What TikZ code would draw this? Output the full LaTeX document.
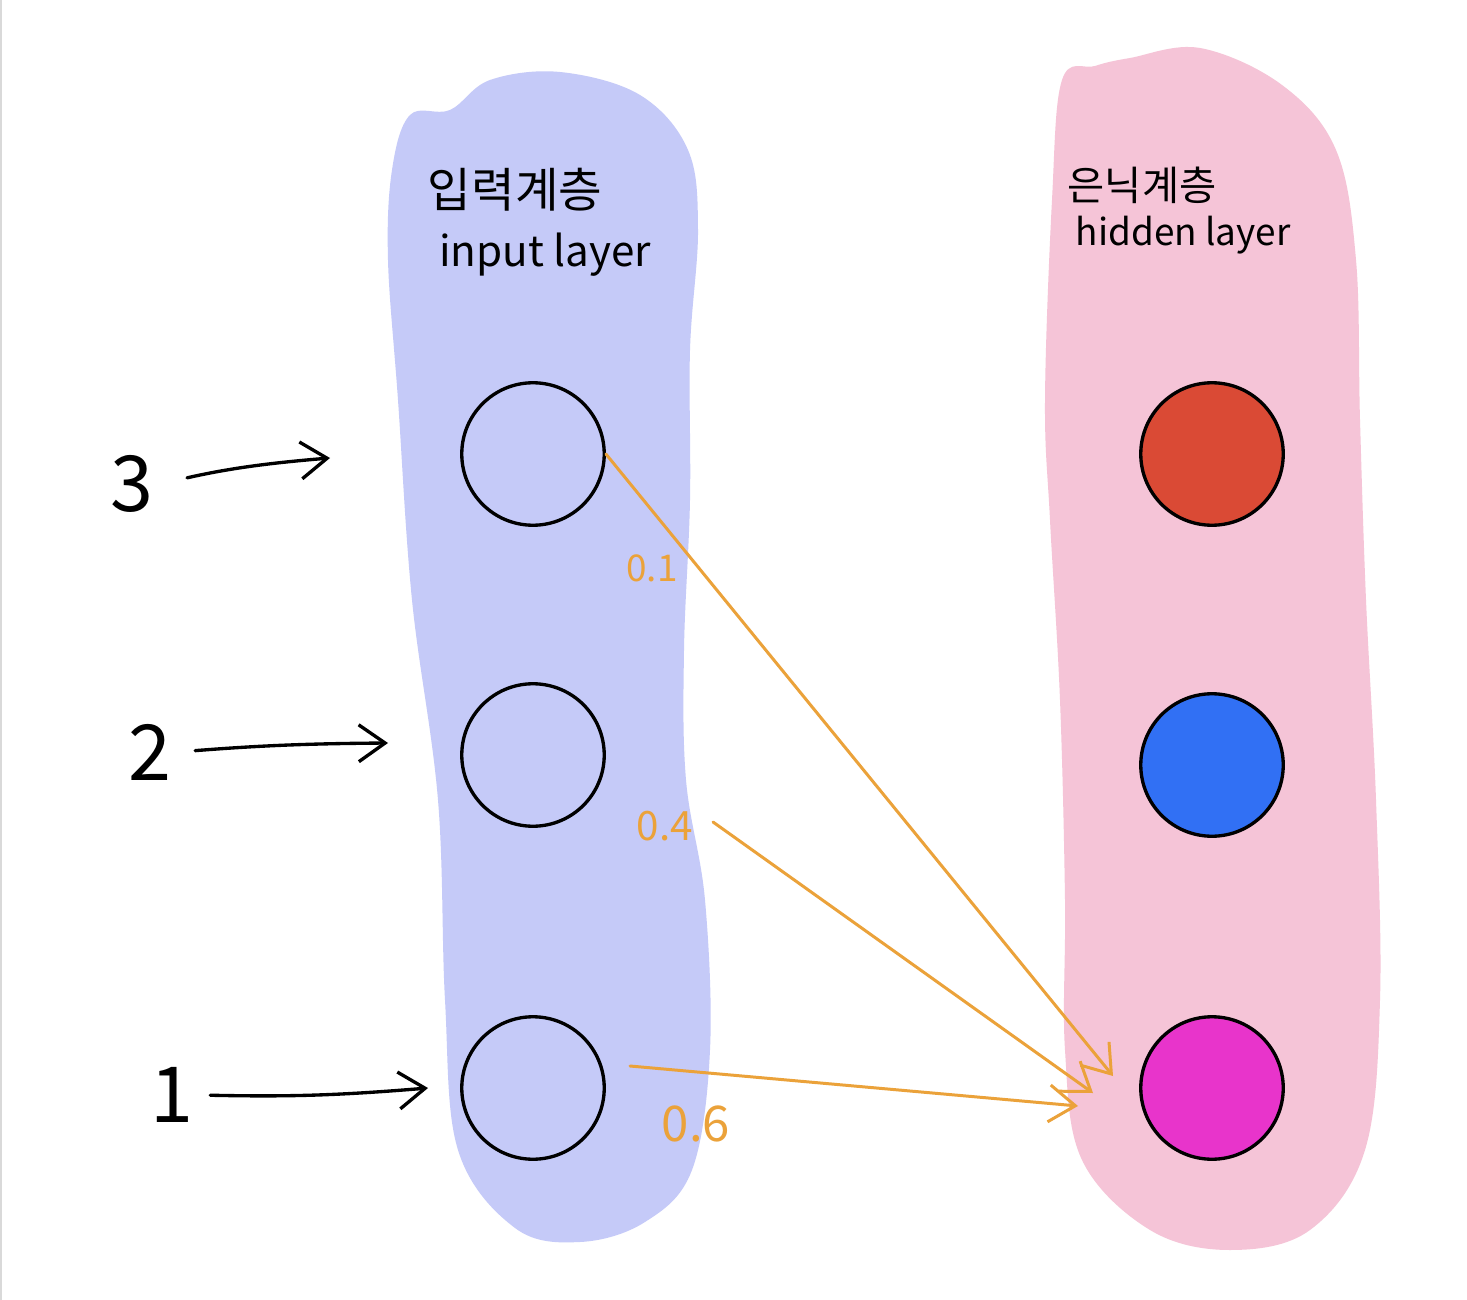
\documentclass[tikz,border=0pt]{standalone}
\usepackage{fontspec}
\setmainfont{Noto Sans CJK KR}
\usetikzlibrary{arrows.meta, positioning}

\definecolor{inblue}{HTML}{C5CAF8}
\definecolor{hidpink}{HTML}{F5C4D7}
\definecolor{worange}{HTML}{EBA23A}
\definecolor{hred}{HTML}{DA4A35}
\definecolor{hblue}{HTML}{3170F4}
\definecolor{hmagenta}{HTML}{E834CB}

\begin{document}
\begin{tikzpicture}[
    x=0.02cm, y=-0.02cm,
    innode/.style={circle, draw=black, line width=1.9pt, minimum size=2.85cm, inner sep=0pt},
    hidnode/.style={innode, fill=#1},
    numlab/.style={font=\fontsize{44}{48}\selectfont},
    headlab/.style={font=\fontsize{27}{31}\selectfont},
    wlab/.style={text=worange, font=\fontsize{#1}{#1}\selectfont},
    inarrow/.style={-{Straight Barb[length=15pt, width=21pt]}, line width=1.9pt, line cap=round},
    warrow/.style={inarrow, draw=worange, line width=1.7pt}
]

% page
\useasboundingbox (0,0) rectangle (1467,1300);
\fill[white] (0,0) rectangle (1467,1300);
\draw[black!15, line width=1pt] (1,0) -- (1,1300);

% layers
\fill[inblue] plot[smooth cycle, tension=0.6] coordinates {
    (410,115) (392,170) (388,260) (398,400) (412,600) (438,800) (445,1000)
    (458,1150) (515,1228) (580,1242) (645,1222) (692,1170) (710,1050)
    (705,900) (686,780) (684,650) (690,500) (690,350) (698,230) (688,150)
    (640,95) (560,72) (490,80) (450,110)};
\fill[hidpink] plot[smooth cycle, tension=0.6] coordinates {
    (1062,80) (1052,200) (1045,400) (1050,520) (1060,700) (1065,900)
    (1065,1050) (1082,1160) (1150,1230) (1230,1250) (1310,1230) (1365,1150)
    (1380,1000) (1376,800) (1366,600) (1360,420) (1356,260) (1336,150)
    (1282,85) (1200,48) (1130,58) (1095,66)};

\node[headlab] (intitle) at (515,190) {입력계층};
\node[headlab, font=\fontsize{24}{28}\selectfont] (insub) at (545,255) {input layer};
\node[headlab, font=\fontsize{23}{27}\selectfont] (hidtitle) at (1142,185) {은닉계층};
\node[headlab, font=\fontsize{21}{25}\selectfont] (hidsub) at (1183,235) {hidden layer};

% neurons
\node[innode] (in3) at (533,454) {};
\node[innode] (in2) at (533,755) {};
\node[innode] (in1) at (533,1088) {};
\node[hidnode=hred] (h3) at (1212,454) {};
\node[hidnode=hblue] (h2) at (1212,765) {};
\node[hidnode=hmagenta] (h1) at (1212,1088) {};

% inputs
\node[numlab] (n3) at (132,484) {3};
\node[numlab] (n2) at (150,752) {2};
\node[numlab] (n1) at (172,1095) {1};
\coordinate (t3) at (330,458);
\coordinate (t2) at (388,743);
\coordinate (t1) at (428,1088);
\draw[inarrow, shorten <=16pt] (n3.east) to[bend left=4] (t3);
\draw[inarrow, shorten <=10pt] (n2.east) to[bend left=2] (t2);
\draw[inarrow, shorten <=6pt] (n1.east) to[bend right=3] (t1);

% weights
\coordinate (w3) at (1113,1076);
\coordinate (w2) at (1093,1093);
\coordinate (w1) at (1078,1106);
\coordinate (s2) at (713,822);
\coordinate (s1) at (630,1066);
\draw[warrow] (in3.east) -- (w3);
\draw[warrow] (s2) -- (w2);
\draw[warrow] (s1) -- (w1);
\node[wlab=21] (l3) at (652,568) {0.1};
\node[wlab=23] (l2) at (665,826) {0.4};
\node[wlab=28] (l1) at (696,1124) {0.6};

\end{tikzpicture}
\end{document}
